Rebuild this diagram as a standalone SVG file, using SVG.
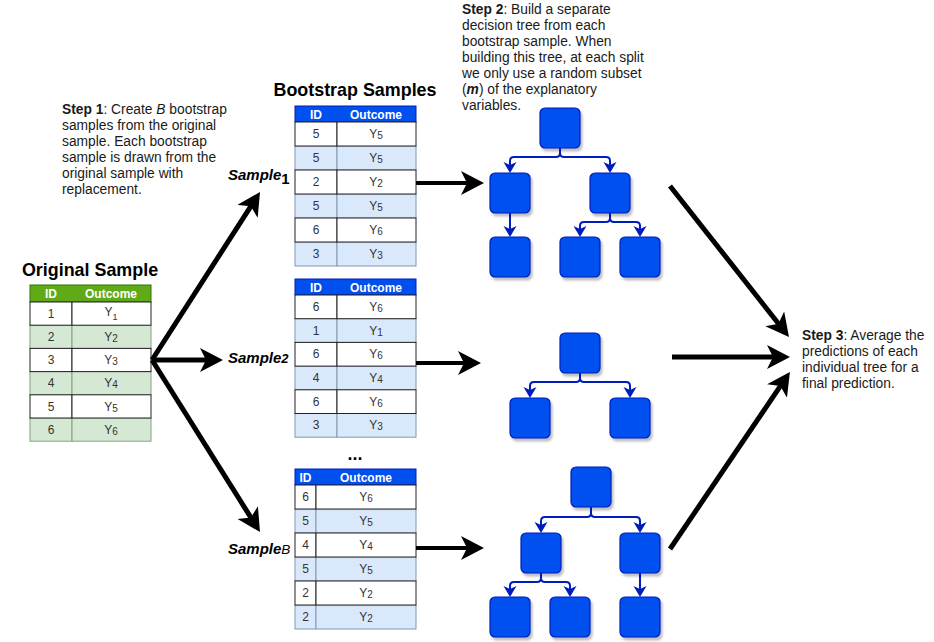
<svg xmlns="http://www.w3.org/2000/svg" width="934" height="642" viewBox="0 0 934 642">
<style>
.t{font-family:"Liberation Sans",Arial,sans-serif;fill:#1a1a1a}
.title{font-family:"Liberation Sans",Arial,sans-serif;font-weight:bold;font-size:17.9px;fill:#000;text-anchor:middle}
.step{font-family:"Liberation Sans",Arial,sans-serif;font-size:13.8px;fill:#1a1a1a}
.hd{font-family:"Liberation Sans",Arial,sans-serif;font-weight:bold;font-size:12px;fill:#fff;text-anchor:middle}
.c{font-family:"Liberation Sans",Arial,sans-serif;font-size:12px;fill:#333;text-anchor:middle}
.w{fill:#fff;stroke:#222;stroke-width:1}
.g{fill:#d5e8d4;stroke:#82a47a;stroke-width:1}
.b{fill:#dae8fc;stroke:#8297b3;stroke-width:1}
.gh{fill:#60a917;stroke:#2d7600;stroke-width:1}
.bh{fill:#0050ef;stroke:#001dbc;stroke-width:1}
.samp{font-family:"Liberation Sans",Arial,sans-serif;font-weight:bold;font-style:italic;font-size:15px;fill:#000}
.node{fill:#0050ef;stroke:#001dbc;stroke-width:1.2;filter:url(#sh)}
.big{fill:none;stroke:#000;stroke-width:5;marker-end:url(#ah)}
.med{fill:none;stroke:#000;stroke-width:4;marker-end:url(#ah)}
.tc{fill:none;stroke:#001dbc;stroke-width:2;marker-end:url(#sa)}
</style>
<defs>
<filter id="sh" x="-20%" y="-20%" width="150%" height="150%">
<feDropShadow dx="2" dy="3" stdDeviation="1" flood-color="#000" flood-opacity="0.25"/>
</filter>
<marker id="ah" markerUnits="userSpaceOnUse" markerWidth="26" markerHeight="26" refX="8" refY="12" orient="auto">
<path d="M0,0 L23,12 L0,24 L6,12 Z" fill="#000"/>
</marker>
<marker id="sa" markerUnits="userSpaceOnUse" markerWidth="14" markerHeight="14" refX="4" refY="6.5" orient="auto">
<path d="M0,0 L11,6.5 L0,13 L3,6.5 Z" fill="#001dbc"/>
</marker>
</defs>
<rect width="934" height="642" fill="#fff"/>

<!-- step texts -->
<g id="step1">
<text class="step" x="62" y="114"><tspan font-weight="bold">Step 1</tspan>: Create <tspan font-style="italic">B</tspan> bootstrap</text>
<text class="step" x="62" y="130">samples from the original</text>
<text class="step" x="62" y="146">sample. Each bootstrap</text>
<text class="step" x="62" y="162">sample is drawn from the</text>
<text class="step" x="62" y="178">original sample with</text>
<text class="step" x="62" y="194">replacement.</text>
</g>
<g id="step2">
<text class="step" x="462" y="14"><tspan font-weight="bold">Step 2</tspan>: Build a separate</text>
<text class="step" x="462" y="30">decision tree from each</text>
<text class="step" x="462" y="46">bootstrap sample. When</text>
<text class="step" x="462" y="62">building this tree, at each split</text>
<text class="step" x="462" y="78">we only use a random subset</text>
<text class="step" x="462" y="94">(<tspan font-weight="bold" font-style="italic">m</tspan>) of the explanatory</text>
<text class="step" x="462" y="110">variables.</text>
</g>
<g id="step3">
<text class="step" x="802" y="340"><tspan font-weight="bold">Step 3</tspan>: Average the</text>
<text class="step" x="802" y="356">predictions of each</text>
<text class="step" x="802" y="372">individual tree for a</text>
<text class="step" x="802" y="388">final prediction.</text>
</g>

<!-- original sample -->
<g id="original-sample">
<text class="title" x="90" y="276">Original Sample</text>
<rect class="gh" x="30" y="285" width="121" height="17"/>
<text class="hd" x="51" y="298">ID</text>
<text class="hd" x="111" y="298">Outcome</text>
<rect class="g" x="30" y="325.2" width="42" height="23.2"/><rect class="g" x="72" y="325.2" width="79" height="23.2"/>
<rect class="g" x="30" y="371.6" width="42" height="23.2"/><rect class="g" x="72" y="371.6" width="79" height="23.2"/>
<rect class="g" x="30" y="418" width="42" height="23.2"/><rect class="g" x="72" y="418" width="79" height="23.2"/>
<rect class="w" x="30" y="302" width="42" height="23.2"/><rect class="w" x="72" y="302" width="79" height="23.2"/>
<rect class="w" x="30" y="348.4" width="42" height="23.2"/><rect class="w" x="72" y="348.4" width="79" height="23.2"/>
<rect class="w" x="30" y="394.8" width="42" height="23.2"/><rect class="w" x="72" y="394.8" width="79" height="23.2"/>
<text class="c" x="51" y="318">1</text><text class="c" x="111" y="316">Y<tspan font-size="9" dy="4">1</tspan></text>
<text class="c" x="51" y="341">2</text><text class="c" x="111" y="341">Y<tspan font-size="10" dy="1">2</tspan></text>
<text class="c" x="51" y="364">3</text><text class="c" x="111" y="364">Y<tspan font-size="10" dy="1">3</tspan></text>
<text class="c" x="51" y="387">4</text><text class="c" x="111" y="387">Y<tspan font-size="10" dy="1">4</tspan></text>
<text class="c" x="51" y="411">5</text><text class="c" x="111" y="411">Y<tspan font-size="10" dy="1">5</tspan></text>
<text class="c" x="51" y="434">6</text><text class="c" x="111" y="434">Y<tspan font-size="10" dy="1">6</tspan></text>
</g>

<text class="title" x="355" y="96">Bootstrap Samples</text>

<!-- bootstrap sample 1 -->
<g id="bootstrap-1">
<rect class="bh" x="295" y="106" width="121" height="16"/>
<text class="hd" x="316" y="118.5">ID</text>
<text class="hd" x="376" y="118.5">Outcome</text>
<rect class="b" x="295" y="146" width="42" height="24"/><rect class="b" x="337" y="146" width="79" height="24"/>
<rect class="b" x="295" y="194" width="42" height="24"/><rect class="b" x="337" y="194" width="79" height="24"/>
<rect class="b" x="295" y="242" width="42" height="24"/><rect class="b" x="337" y="242" width="79" height="24"/>
<rect class="w" x="295" y="122" width="42" height="24"/><rect class="w" x="337" y="122" width="79" height="24"/>
<rect class="w" x="295" y="170" width="42" height="24"/><rect class="w" x="337" y="170" width="79" height="24"/>
<rect class="w" x="295" y="218" width="42" height="24"/><rect class="w" x="337" y="218" width="79" height="24"/>
<text class="c" x="316" y="138">5</text><text class="c" x="376" y="138">Y<tspan font-size="10" dy="1">5</tspan></text>
<text class="c" x="316" y="162">5</text><text class="c" x="376" y="162">Y<tspan font-size="10" dy="1">5</tspan></text>
<text class="c" x="316" y="186">2</text><text class="c" x="376" y="186">Y<tspan font-size="10" dy="1">2</tspan></text>
<text class="c" x="316" y="210">5</text><text class="c" x="376" y="210">Y<tspan font-size="10" dy="1">5</tspan></text>
<text class="c" x="316" y="234">6</text><text class="c" x="376" y="234">Y<tspan font-size="10" dy="1">6</tspan></text>
<text class="c" x="316" y="258">3</text><text class="c" x="376" y="258">Y<tspan font-size="10" dy="1">3</tspan></text>
</g>

<!-- bootstrap sample 2 -->
<g id="bootstrap-2">
<rect class="bh" x="295" y="279" width="121" height="16"/>
<text class="hd" x="316" y="291.5">ID</text>
<text class="hd" x="376" y="291.5">Outcome</text>
<rect class="b" x="295" y="318.7" width="42" height="23.7"/><rect class="b" x="337" y="318.7" width="79" height="23.7"/>
<rect class="b" x="295" y="366.1" width="42" height="23.7"/><rect class="b" x="337" y="366.1" width="79" height="23.7"/>
<rect class="b" x="295" y="413.5" width="42" height="23.7"/><rect class="b" x="337" y="413.5" width="79" height="23.7"/>
<rect class="w" x="295" y="295" width="42" height="23.7"/><rect class="w" x="337" y="295" width="79" height="23.7"/>
<rect class="w" x="295" y="342.4" width="42" height="23.7"/><rect class="w" x="337" y="342.4" width="79" height="23.7"/>
<rect class="w" x="295" y="389.8" width="42" height="23.7"/><rect class="w" x="337" y="389.8" width="79" height="23.7"/>
<text class="c" x="316" y="311">6</text><text class="c" x="376" y="311">Y<tspan font-size="10" dy="1">6</tspan></text>
<text class="c" x="316" y="335">1</text><text class="c" x="376" y="335">Y<tspan font-size="10" dy="1">1</tspan></text>
<text class="c" x="316" y="358">6</text><text class="c" x="376" y="358">Y<tspan font-size="10" dy="1">6</tspan></text>
<text class="c" x="316" y="382">4</text><text class="c" x="376" y="382">Y<tspan font-size="10" dy="1">4</tspan></text>
<text class="c" x="316" y="406">6</text><text class="c" x="376" y="406">Y<tspan font-size="10" dy="1">6</tspan></text>
<text class="c" x="316" y="429">3</text><text class="c" x="376" y="429">Y<tspan font-size="10" dy="1">3</tspan></text>
</g>

<text class="title" x="355" y="460" font-size="14">...</text>

<!-- bootstrap sample B -->
<g id="bootstrap-B">
<rect class="bh" x="295" y="469" width="121" height="16"/>
<text class="hd" x="305.5" y="481.5">ID</text>
<text class="hd" x="366" y="481.5">Outcome</text>
<rect class="b" x="295" y="509" width="21" height="24"/><rect class="b" x="316" y="509" width="100" height="24"/>
<rect class="b" x="295" y="557" width="21" height="24"/><rect class="b" x="316" y="557" width="100" height="24"/>
<rect class="b" x="295" y="605" width="21" height="24"/><rect class="b" x="316" y="605" width="100" height="24"/>
<rect class="w" x="295" y="485" width="21" height="24"/><rect class="w" x="316" y="485" width="100" height="24"/>
<rect class="w" x="295" y="533" width="21" height="24"/><rect class="w" x="316" y="533" width="100" height="24"/>
<rect class="w" x="295" y="581" width="21" height="24"/><rect class="w" x="316" y="581" width="100" height="24"/>
<text class="c" x="305.5" y="501">6</text><text class="c" x="366" y="501">Y<tspan font-size="10" dy="1">6</tspan></text>
<text class="c" x="305.5" y="525">5</text><text class="c" x="366" y="525">Y<tspan font-size="10" dy="1">5</tspan></text>
<text class="c" x="305.5" y="549">4</text><text class="c" x="366" y="549">Y<tspan font-size="10" dy="1">4</tspan></text>
<text class="c" x="305.5" y="573">5</text><text class="c" x="366" y="573">Y<tspan font-size="10" dy="1">5</tspan></text>
<text class="c" x="305.5" y="597">2</text><text class="c" x="366" y="597">Y<tspan font-size="10" dy="1">2</tspan></text>
<text class="c" x="305.5" y="621">2</text><text class="c" x="366" y="621">Y<tspan font-size="10" dy="1">2</tspan></text>
</g>

<!-- sample labels -->
<g id="sample-labels">
<text class="samp" x="228" y="180">Sample<tspan font-style="normal" dy="4">1</tspan></text>
<text class="samp" x="228" y="363">Sample<tspan font-size="13">2</tspan></text>
<text class="samp" x="228" y="554">Sample<tspan font-weight="normal" font-size="13.5">B</tspan></text>
</g>

<!-- trees -->
<g id="tree-1">
<rect class="node" x="540" y="108" width="40" height="40" rx="5"/>
<rect class="node" x="490" y="173" width="40" height="40" rx="5"/>
<rect class="node" x="590" y="173" width="40" height="40" rx="5"/>
<rect class="node" x="490" y="237" width="40" height="40" rx="5"/>
<rect class="node" x="560" y="237" width="40" height="40" rx="5"/>
<rect class="node" x="620" y="237" width="40" height="40" rx="5"/>
</g>
<g id="tree-2">
<rect class="node" x="560" y="333" width="40" height="40" rx="5"/>
<rect class="node" x="510" y="398" width="40" height="40" rx="5"/>
<rect class="node" x="610" y="398" width="40" height="40" rx="5"/>
</g>
<g id="tree-B">
<rect class="node" x="571" y="467" width="40" height="40" rx="5"/>
<rect class="node" x="521" y="533" width="40" height="40" rx="5"/>
<rect class="node" x="620" y="533" width="40" height="40" rx="5"/>
<rect class="node" x="490" y="597" width="40" height="40" rx="5"/>
<rect class="node" x="550" y="597" width="40" height="40" rx="5"/>
<rect class="node" x="620" y="597" width="40" height="40" rx="5"/>
</g>

<!-- connectors -->
<g id="connectors">
<path class="big" d="M152,360 L251.9,204.6"/>
<path class="big" d="M152,360 L208,360"/>
<path class="big" d="M152,360 L252,519.3"/>
<path class="med" d="M416,183 L469,183"/>
<path class="med" d="M416,363 L466,363"/>
<path class="med" d="M416,548 L469,548"/>
<path class="big" d="M670,186 L779.7,325.2"/>
<path class="big" d="M672,357 L775,357"/>
<path class="big" d="M670,549 L781.5,384.4"/>

<path class="tc" d="M560,148 V153 Q560,157 556,157 H514 Q510,157 510,161 V166"/>
<path class="tc" d="M560,148 V153 Q560,157 564,157 H606 Q610,157 610,161 V166"/>
<path class="tc" d="M510,213 V230"/>
<path class="tc" d="M610,213 V218 Q610,222 606,222 H584 Q580,222 580,226 V230"/>
<path class="tc" d="M610,213 V218 Q610,222 614,222 H636 Q640,222 640,226 V230"/>

<path class="tc" d="M580,373 V378 Q580,382 576,382 H534 Q530,382 530,386 V391"/>
<path class="tc" d="M580,373 V378 Q580,382 584,382 H626 Q630,382 630,386 V391"/>

<path class="tc" d="M591,507 V513 Q591,517 587,517 H545 Q541,517 541,521 V526"/>
<path class="tc" d="M591,507 V513 Q591,517 595,517 H636 Q640,517 640,521 V526"/>
<path class="tc" d="M541,573 V578 Q541,582 537,582 H514 Q510,582 510,586 V590"/>
<path class="tc" d="M541,573 V578 Q541,582 545,582 H566 Q570,582 570,586 V590"/>
<path class="tc" d="M640,573 V590"/>
</g>
</svg>
